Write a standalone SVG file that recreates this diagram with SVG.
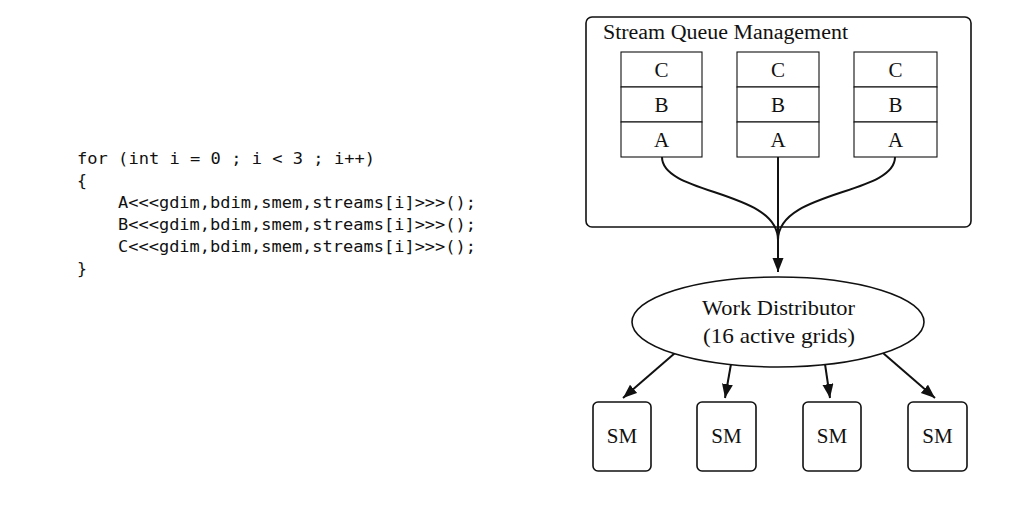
<svg xmlns="http://www.w3.org/2000/svg" width="1034" height="511" viewBox="0 0 1034 511">
<style>
.code{font-family:"DejaVu Sans Mono","Liberation Mono",monospace;font-size:16.5px;fill:#111}
.t{font-family:"Liberation Serif","DejaVu Serif",serif;font-size:21px;fill:#111}
.box{fill:#fff;stroke:#111;stroke-width:1.6}
.cell{fill:#fff;stroke:#111;stroke-width:1.1}
.con{fill:none;stroke:#111;stroke-width:2}
</style>
<defs>
<marker id="ah" markerUnits="userSpaceOnUse" markerWidth="15" markerHeight="12" refX="14" refY="5.5" orient="auto">
<path d="M0,0 L14,5.5 L0,11 z" fill="#111"/>
</marker>
</defs>
<rect width="1034" height="511" fill="#fff"/>
<g id="code">
<text class="code" x="77" y="164" textLength="298" lengthAdjust="spacingAndGlyphs">for (int i = 0 ; i &lt; 3 ; i++)</text>
<text class="code" x="77" y="186">{</text>
<text class="code" x="118" y="208" textLength="358" lengthAdjust="spacingAndGlyphs">A&lt;&lt;&lt;gdim,bdim,smem,streams[i]&gt;&gt;&gt;();</text>
<text class="code" x="118" y="230" textLength="358" lengthAdjust="spacingAndGlyphs">B&lt;&lt;&lt;gdim,bdim,smem,streams[i]&gt;&gt;&gt;();</text>
<text class="code" x="118" y="252" textLength="358" lengthAdjust="spacingAndGlyphs">C&lt;&lt;&lt;gdim,bdim,smem,streams[i]&gt;&gt;&gt;();</text>
<text class="code" x="77" y="274">}</text>
</g>
<g id="sqm">
<rect class="box" x="586" y="17" width="385" height="210" rx="6"/>
<text class="t" x="603" y="39" style="font-size:20px" textLength="245" lengthAdjust="spacingAndGlyphs">Stream Queue Management</text>
</g>
<g id="stream1">
<rect class="cell" x="621" y="52" width="81" height="35"/>
<rect class="cell" x="621" y="87" width="81" height="35"/>
<rect class="cell" x="621" y="122" width="81" height="35"/>
<text class="t" x="661.5" y="77" text-anchor="middle">C</text>
<text class="t" x="661.5" y="112" text-anchor="middle">B</text>
<text class="t" x="661.5" y="147" text-anchor="middle">A</text>
</g>
<g id="stream2">
<rect class="cell" x="737" y="52" width="82" height="35"/>
<rect class="cell" x="737" y="87" width="82" height="35"/>
<rect class="cell" x="737" y="122" width="82" height="35"/>
<text class="t" x="778" y="77" text-anchor="middle">C</text>
<text class="t" x="778" y="112" text-anchor="middle">B</text>
<text class="t" x="778" y="147" text-anchor="middle">A</text>
</g>
<g id="stream3">
<rect class="cell" x="854" y="52" width="83" height="35"/>
<rect class="cell" x="854" y="87" width="83" height="35"/>
<rect class="cell" x="854" y="122" width="83" height="35"/>
<text class="t" x="895.5" y="77" text-anchor="middle">C</text>
<text class="t" x="895.5" y="112" text-anchor="middle">B</text>
<text class="t" x="895.5" y="147" text-anchor="middle">A</text>
</g>
<g id="connectors">
<path class="con" d="M662,157 C662,195 778,190 778,240"/>
<path class="con" d="M895,157 C895,195 778,190 778,240"/>
<path class="con" d="M778,157 L778,272" marker-end="url(#ah)"/>
<path class="con" d="M675,353 L623,398" marker-end="url(#ah)"/>
<path class="con" d="M731,364 L725,398" marker-end="url(#ah)"/>
<path class="con" d="M825,364 L830,398" marker-end="url(#ah)"/>
<path class="con" d="M883,353 L935,398" marker-end="url(#ah)"/>
</g>
<g id="distributor">
<ellipse class="box" cx="778" cy="322" rx="146" ry="45"/>
<text class="t" x="702" y="315" textLength="153" lengthAdjust="spacingAndGlyphs">Work Distributor</text>
<text class="t" x="703" y="343" textLength="152" lengthAdjust="spacingAndGlyphs">(16 active grids)</text>
</g>
<g id="sm1"><rect class="box" x="593" y="402" width="58" height="69" rx="5"/><text class="t" x="622" y="443" text-anchor="middle">SM</text></g>
<g id="sm2"><rect class="box" x="697" y="402" width="59" height="69" rx="5"/><text class="t" x="726.5" y="443" text-anchor="middle">SM</text></g>
<g id="sm3"><rect class="box" x="803" y="402" width="58" height="69" rx="5"/><text class="t" x="832" y="443" text-anchor="middle">SM</text></g>
<g id="sm4"><rect class="box" x="908" y="402" width="59" height="69" rx="5"/><text class="t" x="937.5" y="443" text-anchor="middle">SM</text></g>
</svg>
